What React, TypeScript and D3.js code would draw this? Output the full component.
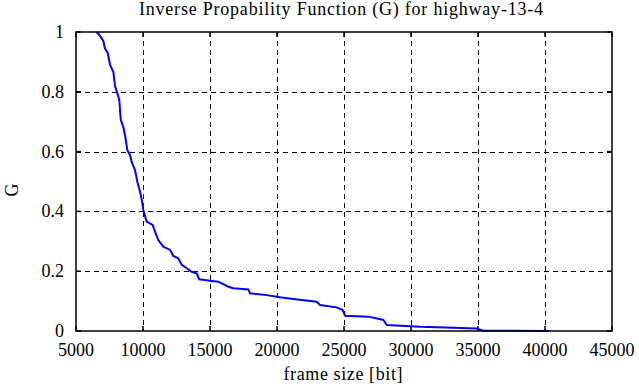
import * as d3 from 'd3';
import React, { useEffect, useRef } from 'react';

// frame size [bit] and G
const frameSize = [
  6540, 6790, 7040, 7160, 7370, 7540, 7790, 7910, 8080, 8230, 8340, 8530, 8680, 8830, 9030,
  9180, 9400, 9600, 9780, 9900, 10020, 10270, 10720, 10900, 11140, 11520, 12020, 12260, 12630,
  12890, 13260, 13630, 14000, 14200, 15000, 15620, 16370, 16740, 17860, 17990, 19230, 20220,
  21220, 22960, 23210, 24450, 24900, 25080, 26820, 27940, 28190, 30670, 33160, 34900, 35400, 40320
];
const gValues = [
  1.0, 0.987, 0.97, 0.945, 0.93, 0.89, 0.866, 0.82, 0.796, 0.773, 0.706, 0.682, 0.649, 0.605, 0.589,
  0.562, 0.538, 0.495, 0.466, 0.44, 0.405, 0.366, 0.355, 0.332, 0.304, 0.282, 0.271, 0.251, 0.243,
  0.221, 0.21, 0.198, 0.193, 0.173, 0.168, 0.165, 0.148, 0.143, 0.139, 0.126, 0.12, 0.113,
  0.107, 0.098, 0.087, 0.079, 0.07, 0.051, 0.048, 0.037, 0.02, 0.014, 0.011, 0.008, 0.001, 0
];
const xTicks = [5000, 10000, 15000, 20000, 25000, 30000, 35000, 40000, 45000];
const yTicks = [0, 0.2, 0.4, 0.6, 0.8, 1];

const title = 'Inverse Propability Function (G) for highway-13-4';
const xTitle = 'frame size [bit]';
const yTitle = 'G';

const App = () => {
  const ref = useRef<SVGSVGElement | null>(null);

  useEffect(() => {
    const width = 639;
    const height = 387;
    const left = 76, right = 612, top = 32, bottom = 331;
    const font = '"Liberation Serif", "Times New Roman", serif';

    const svg = d3.select(ref.current);
    svg.selectAll('*').remove();

    const x = d3.scaleLinear().domain([5000, 45000]).range([left, right]);
    const y = d3.scaleLinear().domain([0, 1]).range([bottom, top]);

    // dashed grid
    const grid = svg.append('g')
      .attr('stroke', '#000')
      .attr('stroke-width', 1)
      .attr('stroke-dasharray', '5,4')
      .attr('shape-rendering', 'crispEdges');
    grid.selectAll('line.vx')
      .data(xTicks.slice(1, -1))
      .enter()
      .append('line')
      .attr('x1', (d) => Math.round(x(d)) + 0.5)
      .attr('x2', (d) => Math.round(x(d)) + 0.5)
      .attr('y1', top)
      .attr('y2', bottom);
    grid.selectAll('line.hy')
      .data(yTicks.slice(1, -1))
      .enter()
      .append('line')
      .attr('y1', (d) => Math.round(y(d)) + 0.5)
      .attr('y2', (d) => Math.round(y(d)) + 0.5)
      .attr('x1', left)
      .attr('x2', right);

    // tick marks on all four sides, pointing inward
    const ticks = svg.append('g')
      .attr('stroke', '#000')
      .attr('stroke-width', 1.5);
    xTicks.forEach((t) => {
      ticks.append('line').attr('x1', x(t)).attr('x2', x(t)).attr('y1', bottom).attr('y2', bottom - 5);
      ticks.append('line').attr('x1', x(t)).attr('x2', x(t)).attr('y1', top).attr('y2', top + 5);
    });
    yTicks.forEach((t) => {
      ticks.append('line').attr('y1', y(t)).attr('y2', y(t)).attr('x1', left).attr('x2', left + 5);
      ticks.append('line').attr('y1', y(t)).attr('y2', y(t)).attr('x1', right).attr('x2', right - 5);
    });

    // curve
    const pts: [number, number][] = frameSize.map((f, i) => [f, gValues[i]]);
    const line = d3.line<[number, number]>()
      .x((d) => x(d[0]))
      .y((d) => y(d[1]));
    svg.append('path')
      .datum(pts)
      .attr('d', line)
      .attr('fill', 'none')
      .attr('stroke', '#0000ff')
      .attr('stroke-width', 2);

    // frame
    svg.append('rect')
      .attr('x', left)
      .attr('y', top)
      .attr('width', right - left)
      .attr('height', bottom - top)
      .attr('fill', 'none')
      .attr('stroke', '#000')
      .attr('stroke-width', 1.5);

    // tick labels
    svg.append('g')
      .selectAll('text')
      .data(xTicks)
      .enter()
      .append('text')
      .attr('x', (d) => x(d))
      .attr('y', 356)
      .attr('text-anchor', 'middle')
      .attr('font-family', font)
      .attr('font-size', 18)
      .text((d) => String(d));

    svg.append('g')
      .selectAll('text')
      .data(yTicks)
      .enter()
      .append('text')
      .attr('x', 64)
      .attr('y', (d) => y(d) + 6)
      .attr('text-anchor', 'end')
      .attr('font-family', font)
      .attr('font-size', 18)
      .text((d) => String(d));

    svg.append('text')
      .attr('x', 341)
      .attr('y', 15)
      .attr('text-anchor', 'middle')
      .attr('font-family', font)
      .attr('font-size', 18)
      .attr('textLength', 404)
      .attr('lengthAdjust', 'spacing')
      .text(title);

    svg.append('text')
      .attr('x', 343)
      .attr('y', 380)
      .attr('text-anchor', 'middle')
      .attr('font-family', font)
      .attr('font-size', 18)
      .attr('textLength', 119)
      .attr('lengthAdjust', 'spacing')
      .text(xTitle);

    svg.append('text')
      .attr('transform', 'translate(18,190) rotate(-90)')
      .attr('text-anchor', 'middle')
      .attr('font-family', font)
      .attr('font-size', 18)
      .text(yTitle);

    svg.attr('width', width).attr('height', height);
  }, []);

  return (
    <svg
      ref={ref}
      width={639}
      height={387}
      style={{ position: 'absolute', left: 0, top: 0, background: '#fff' }}
    />
  );
};

export default App;
